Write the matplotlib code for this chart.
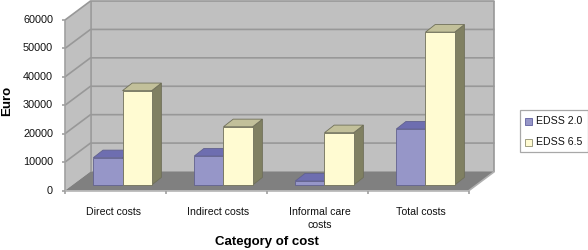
import matplotlib
matplotlib.use("Agg")
import matplotlib.pyplot as plt
from matplotlib.patches import Polygon, Rectangle

plt.rcParams['font.family'] = ['Liberation Sans', 'DejaVu Sans']

categories = ["Direct costs", "Indirect costs", "Informal care\ncosts", "Total costs"]
edss_20 = [9600, 10200, 1400, 19700]
edss_65 = [33200, 20500, 18400, 53800]
y_ticks = [0, 10000, 20000, 30000, 40000, 50000, 60000]

W, H = 588, 250
X0, X1, Y0, Y1 = 65.0, 469.0, 190.5, 20.0
fig = plt.figure(figsize=(W / 100, H / 100), dpi=100)
ax = fig.add_axes([X0 / W, 1 - Y0 / H, (X1 - X0) / W, (Y0 - Y1) / H])
ax.set_xlim(0, 4)
ax.set_ylim(0, 60000)
ax.axis('off')

px = 4 / (X1 - X0)                # category units per pixel
py = 60000 / (Y0 - Y1)            # euro per pixel
DX, DY = 25.5 * px, 19 * py       # full chart depth
BDX, BDY = 9.7 * px, 7.6 * py     # bar depth
OFFX, OFFY = 7.2 * px, 5.5 * py   # bar front plane vs. chart front plane
BW = 29.2 * px
LEFT = 28.3 * px
LABEL_NUDGE = [-2, 2, 2, 2.5]

WALL, FLOOR, GRID = '#C0C0C0', '#808080', '#989898'


def poly(pts, fc, ec='none', lw=0.0, z=1):
    ax.add_patch(Polygon(pts, closed=True, fc=fc, ec=ec, lw=lw, zorder=z, clip_on=False))


def line(xs, ys, c=GRID, lw=1.2, z=2):
    ax.plot(xs, ys, color=c, lw=lw, zorder=z, clip_on=False, solid_capstyle='butt')


# back wall, side wall, floor
poly([(DX, DY), (4 + DX, DY), (4 + DX, 60000 + DY), (DX, 60000 + DY)], WALL)
poly([(0, 0), (DX, DY), (DX, 60000 + DY), (0, 60000)], WALL)
poly([(0, 0), (4, 0), (4 + DX, DY), (DX, DY)], FLOOR)

# gridlines
for t in y_ticks[1:]:
    line([0, DX, 4 + DX], [t, t + DY, t + DY])
line([DX, DX], [DY, 60000 + DY])
line([4 + DX, 4 + DX], [DY, 60000 + DY])
line([4, 4 + DX], [0, DY], c='#B0B0B0')

# axes and ticks
line([0, 0], [0, 60000], c='#A0A0A0', z=2)
line([0, 4], [0, 0], c='#B4B4B4', z=2)
for t in y_ticks:
    line([-3 * px, 0], [t, t], c='#A0A0A0')
    ax.text(-12 * px, t, str(t), ha='right', va='center', fontsize=7.8, color='#111111')
for i in range(5):
    line([i, i], [0, -3 * py], c='#A0A0A0')


def bar(x, v, front, top, side, z, edge):
    x0, x1 = x + OFFX, x + OFFX + BW
    y0, y1 = OFFY, v + OFFY
    lw = 0.6
    poly([(x1, y0), (x1 + BDX, y0 + BDY), (x1 + BDX, y1 + BDY), (x1, y1)], side, edge, lw, z)
    poly([(x0, y1), (x1, y1), (x1 + BDX, y1 + BDY), (x0 + BDX, y1 + BDY)], top, edge, lw, z)
    ax.add_patch(Rectangle((x0, y0), BW, v, fc=front, ec=edge, lw=lw, zorder=z, clip_on=False))


for i, (a, b) in enumerate(zip(edss_20, edss_65)):
    xa = i + LEFT - OFFX
    bar(xa, a, '#9696C8', '#6E6EB0', '#50508A', 3 + 2 * i, '#62628E')
    bar(xa + BW, b, '#FFFBD2', '#C2C09A', '#808062', 4 + 2 * i, '#70705A')
    ax.text(i + 0.5 + LABEL_NUDGE[i] * px, -5700, categories[i], ha='center', va='top', fontsize=7.6,
            color='#111111', linespacing=1.42)

fig.text(267 / W, 1 - 242.5 / H, "Category of cost", ha='center', va='center',
         fontsize=9.5, fontweight='bold', color='black')
fig.text(7 / W, 1 - 101 / H, "Euro", ha='center', va='center', rotation=90,
         fontsize=9.5, fontweight='bold', color='black')

# legend box
fig.add_artist(Rectangle((519.5 / W, 1 - 152 / H), 68 / W, 42 / H, transform=fig.transFigure,
                         fc='white', ec='#A8A8A8', lw=0.9))
for yy, lab, fc, ec in [(121, "EDSS 2.0", '#9696C8', '#6060A0'), (142, "EDSS 6.5", '#FFFBD2', '#909070')]:
    fig.add_artist(Rectangle((525 / W, 1 - (yy + 3.5) / H), 7 / W, 7 / H, transform=fig.transFigure,
                             fc=fc, ec=ec, lw=0.6))
    fig.text(536 / W, 1 - yy / H, lab, ha='left', va='center', fontsize=7.6, color='#111111')

fig.savefig("out.png", dpi=100)
